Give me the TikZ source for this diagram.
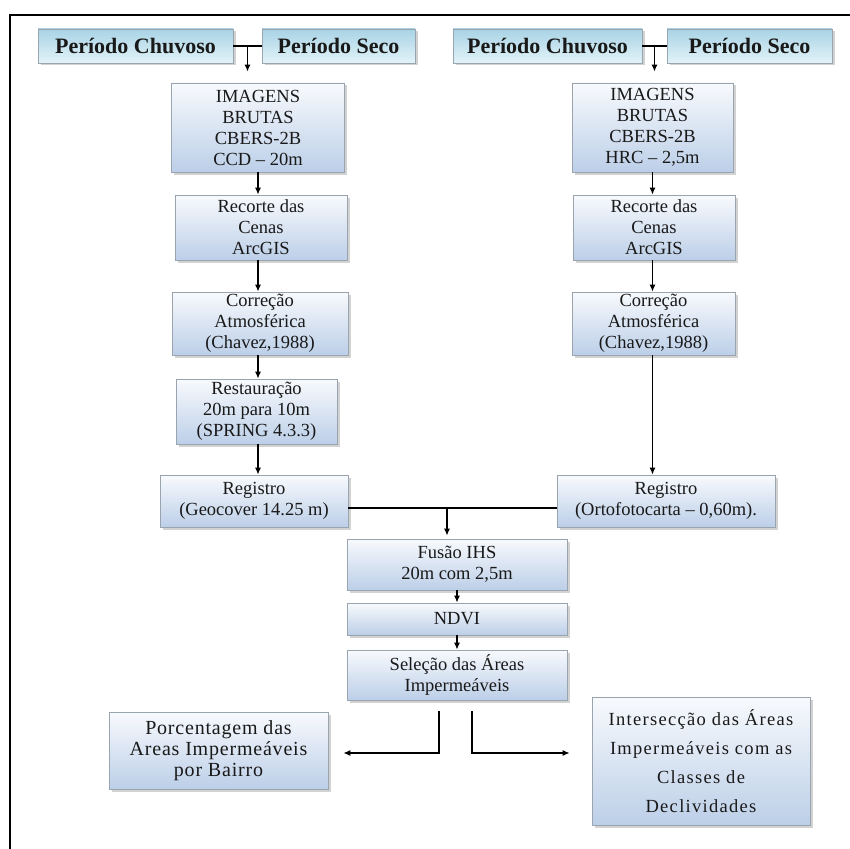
\documentclass[tikz,border=0pt]{standalone}
\usepackage{fontspec}
\setmainfont{Liberation Serif}
\usetikzlibrary{arrows.meta,calc,shadows}
\definecolor{boxtop}{HTML}{F8FAFD}
\definecolor{boxbot}{HTML}{BCCFE8}
\definecolor{boxline}{HTML}{9AA4AE}
\definecolor{pertop}{HTML}{A9D3E5}
\definecolor{perbot}{HTML}{E2F3F8}
\begin{document}
\begin{tikzpicture}[x=1pt,y=-1pt,
    flowbox/.style={draw=boxline,line width=0.8pt,top color=boxtop,bottom color=boxbot,
      drop shadow={shadow xshift=2.5pt,shadow yshift=-2.5pt,fill=black!35},
      align=center,inner sep=0pt,text=black!90,font=\fontsize{18.5}{21}\selectfont},
    periodbox/.style={flowbox,top color=pertop,bottom color=perbot,
      font=\fontsize{22}{24}\selectfont\bfseries},
    widebox/.style={flowbox,font=\fontsize{20}{21}\selectfont\addfontfeature{LetterSpace=4}},
    wire/.style={line width=1.2pt},
    link/.style={wire,-{Latex[length=7pt,width=6pt]}}]
  \useasboundingbox (0,0) rectangle (850,848);
  \draw[line width=2pt] (10,860) -- (10,15) -- (860,15);
  \node[periodbox,minimum width=195pt,minimum height=34pt] (chuvA) at (135.5,46) {Período Chuvoso};
  \node[periodbox,minimum width=153pt,minimum height=34pt] (secoA) at (338.5,46) {Período Seco};
  \node[periodbox,minimum width=189pt,minimum height=34pt] (chuvB) at (547.5,46) {Período Chuvoso};
  \node[periodbox,minimum width=165pt,minimum height=34pt] (secoB) at (749.5,46) {Período Seco};
  \node[flowbox,minimum width=173pt,minimum height=89pt] (imgA) at (258,127.5)
    {IMAGENS\\BRUTAS\\CBERS-2B\\CCD – 20m};
  \node[flowbox,minimum width=161pt,minimum height=89pt] (imgB) at (652.5,127.5)
    {IMAGENS\\BRUTAS\\CBERS-2B\\HRC – 2,5m};
  \node[flowbox,minimum width=172pt,minimum height=65pt] (recA) at (261,227.5)
    {Recorte das\\Cenas\\ArcGIS};
  \node[flowbox,minimum width=162pt,minimum height=65pt] (recB) at (654,227.5)
    {Recorte das\\Cenas\\ArcGIS};
  \node[flowbox,minimum width=176pt,minimum height=63pt] (corA) at (260,323.5)
    {Correção\\Atmosférica\\(Chavez,1988)};
  \node[flowbox,minimum width=163pt,minimum height=63pt] (corB) at (653.5,323.5)
    {Correção\\Atmosférica\\(Chavez,1988)};
  \node[flowbox,minimum width=161pt,minimum height=65pt] (resA) at (256.5,411.5)
    {Restauração\\20m para 10m\\(SPRING 4.3.3)};
  \node[flowbox,minimum width=188pt,minimum height=52pt] (regA) at (254,501)
    {Registro\\(Geocover 14.25 m)};
  \node[flowbox,minimum width=218pt,minimum height=52pt] (regB) at (666,501)
    {Registro\\(Ortofotocarta – 0,60m).};
  \node[flowbox,minimum width=220pt,minimum height=51pt] (fus) at (457,564.5)
    {Fusão IHS\\20m com 2,5m};
  \node[flowbox,minimum width=220pt,minimum height=32pt] (ndvi) at (457,619) {NDVI};
  \node[flowbox,minimum width=220pt,minimum height=50pt] (sel) at (457,675)
    {Seleção das Áreas\\Impermeáveis};
  \node[widebox,minimum width=219pt,minimum height=77pt] (porc) at (218.5,750.5)
    {Porcentagem das\\Areas Impermeáveis\\por Bairro};
  \node[widebox,minimum width=218pt,minimum height=128pt,font=\fontsize{18.5}{29}\selectfont\addfontfeature{LetterSpace=7}] (inter) at (701,761)
    {Intersecção das Áreas\\Impermeáveis com as\\Classes de\\Declividades};
  \coordinate (jA) at ($(chuvA.east)!0.5!(secoA.west)$);
  \coordinate (jB) at ($(chuvB.east)!0.5!(secoB.west)$);
  \coordinate (jF) at (447,508);
  \draw[wire] (chuvA.east) -- (secoA.west);
  \draw[wire] (chuvB.east) -- (secoB.west);
  \draw[link] (jA) -- ($(jA |- imgA.north)+(0,-11)$);
  \draw[link] (jB) -- ($(jB |- imgB.north)+(0,-11)$);
  \draw[link] (imgA.south) -- (imgA.south |- recA.north);
  \draw[link] (imgB.south) -- (imgB.south |- recB.north);
  \draw[link] (imgA.south |- recA.south) -- (imgA.south |- corA.north);
  \draw[link] (imgB.south |- recB.south) -- (imgB.south |- corB.north);
  \draw[link] (imgA.south |- corA.south) -- (imgA.south |- resA.north);
  \draw[link] (imgB.south |- corB.south) -- (imgB.south |- regB.north);
  \draw[link] (imgA.south |- resA.south) -- (imgA.south |- regA.north);
  \draw[wire] ([yshift=-7pt]regA.east) -- ([yshift=-7pt]regB.west);
  \draw[link,shorten >=3pt] (jF) -- (jF |- fus.north);
  \draw[link] (fus.south) -- (ndvi.north);
  \draw[link] (ndvi.south) -- (sel.north);
  \draw[link] ([xshift=-18pt,yshift=-11pt]sel.south) |- ([xshift=15pt,yshift=-2.5pt]porc.east);
  \draw[link] ([xshift=15pt,yshift=-11pt]sel.south) |- ([xshift=-22pt,yshift=8pt]inter.west);
\end{tikzpicture}
\end{document}
